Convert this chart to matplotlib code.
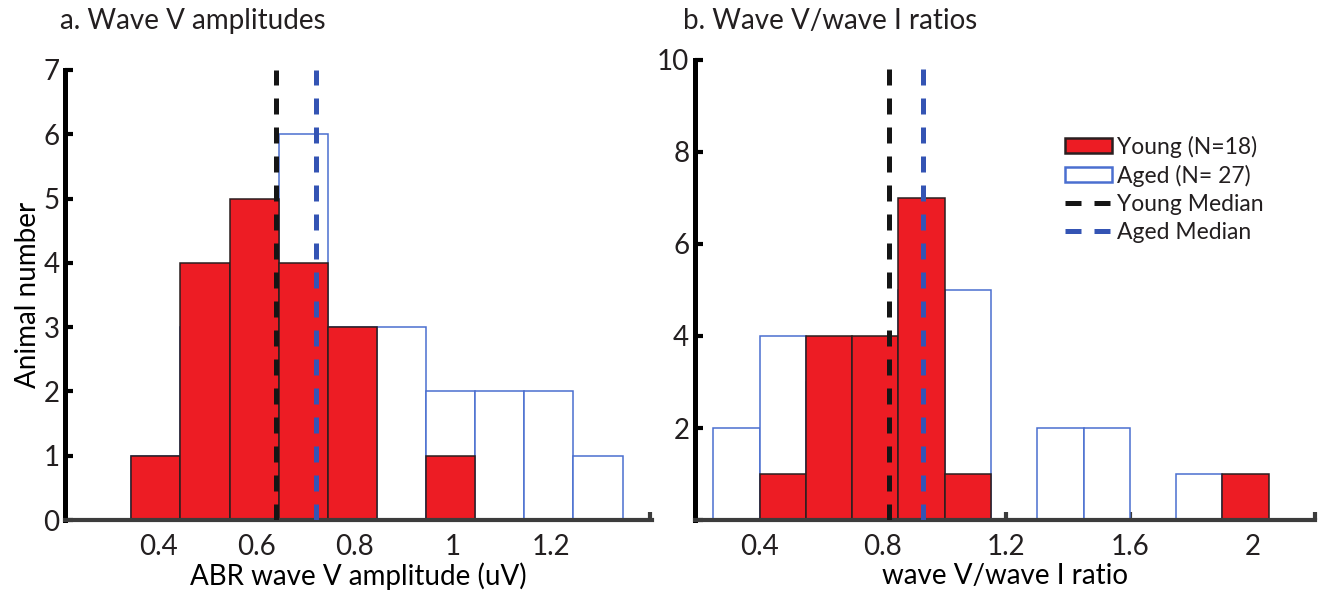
import numpy as np
import matplotlib
matplotlib.use('Agg')
import matplotlib.pyplot as plt
from matplotlib.patches import Patch
from matplotlib.lines import Line2D

# data: panel a, ABR wave V amplitude histogram (bin centres, width 0.1)
amp_bins = [0.395, 0.495, 0.595, 0.695, 0.795, 0.895, 0.995, 1.095, 1.195, 1.295]
amp_young = [1, 4, 5, 4, 3, 0, 1, 0, 0, 0]
amp_aged = [1, 3, 4, 6, 3, 3, 2, 2, 2, 1]
amp_median_young = 0.64
amp_median_aged = 0.72

# data: panel b, wave V / wave I ratio histogram (bin centres, width 0.15)
ratio_bins = [0.325, 0.475, 0.625, 0.775, 0.925, 1.075, 1.225, 1.375, 1.525, 1.675, 1.825, 1.975]
ratio_young = [0, 1, 4, 4, 7, 1, 0, 0, 0, 0, 0, 1]
ratio_aged = [2, 4, 3, 3, 5, 5, 0, 2, 2, 0, 1, 0]
ratio_median_young = 0.82
ratio_median_aged = 0.93

amp_xticks = [0.4, 0.6, 0.8, 1.0, 1.2, 1.4]
amp_xlabels = ['0.4', '0.6', '0.8', '1', '1.2', '']
ratio_xticks = [0.4, 0.6, 0.8, 1.0, 1.2, 1.4, 1.6, 1.8, 2.0, 2.2]
ratio_xlabels = ['0.4', '', '0.8', '', '1.2', '', '1.6', '', '2', '']
ratio_yticks = [0, 2, 4, 6, 8, 10]
ratio_ylabels = ['', '2', '4', '6', '8', '10']

# style
red = '#ed1c24'
red_edge = '#2a1f20'
blue = '#4a6fd0'
blue_med = '#3454b4'
fontsize = 20
dash = (3.2, 2.6)
plt.rcParams['font.family'] = ['Lato', 'DejaVu Sans']
plt.rcParams['text.color'] = '#231f20'

fig = plt.figure(figsize=(13.26, 5.93), dpi=100)


def style_axes(ax):
    ax.set_axisbelow(True)
    for s in ['top', 'right']:
        ax.spines[s].set_visible(False)
    ax.spines['left'].set_linewidth(3.6)
    ax.spines['left'].set_color('black')
    ax.spines['bottom'].set_linewidth(3.0)
    ax.spines['bottom'].set_color('#3c3c3c')
    ax.tick_params(axis='y', direction='in', length=6, width=3, color='black',
                   labelsize=fontsize, pad=4, labelcolor='#231f20')
    ax.tick_params(axis='x', direction='in', length=6, width=3, color='#3c3c3c',
                   labelsize=fontsize, pad=10, labelcolor='#231f20')


def draw_hist(ax, bins, young, aged, width, med_y, med_a):
    ax.bar(bins, aged, width=width, color='white', edgecolor=blue, linewidth=1.1, zorder=1)
    ax.bar(bins, young, width=width, color=red, edgecolor=red_edge, linewidth=1.1, zorder=2)
    ax.axvline(med_y, color='#151515', lw=3.6, dashes=dash, zorder=3)
    ax.axvline(med_a, color=blue_med, lw=3.6, dashes=dash, zorder=3)


# a. wave V amplitudes
ax1 = fig.add_axes([0.049, 0.123, 0.4427, 0.759])
draw_hist(ax1, amp_bins, amp_young, amp_aged, 0.1, amp_median_young, amp_median_aged)
ax1.set_xlim(0.21, 1.405)
ax1.set_ylim(0, 7)
ax1.set_xticks(amp_xticks)
ax1.set_xticklabels(amp_xlabels)
ax1.set_yticks(range(8))
style_axes(ax1)
ax1.set_xlabel('ABR wave V amplitude (uV)', fontsize=fontsize, labelpad=2)
ax1.set_ylabel('Animal number', fontsize=fontsize, labelpad=2)

# b. wave V / wave I ratios
ax2 = fig.add_axes([0.524, 0.123, 0.4676, 0.776])
draw_hist(ax2, ratio_bins, ratio_young, ratio_aged, 0.15, ratio_median_young, ratio_median_aged)
ax2.set_xlim(0.19, 2.2)
ax2.set_ylim(0, 10)
ax2.set_xticks(ratio_xticks)
ax2.set_xticklabels(ratio_xlabels)
ax2.set_yticks(ratio_yticks)
ax2.set_yticklabels(ratio_ylabels)
style_axes(ax2)
ax2.set_xlabel('wave V/wave I ratio', fontsize=fontsize, labelpad=2)

handles = [Patch(facecolor=red, edgecolor=red_edge, linewidth=1.8),
           Patch(facecolor='white', edgecolor=blue, linewidth=1.8),
           Line2D([], [], color='#151515', lw=3.6, dashes=dash),
           Line2D([], [], color=blue_med, lw=3.6, dashes=dash)]
labels = ['Young (N=18)', 'Aged (N= 27)', 'Young Median', 'Aged Median']
ax2.legend(handles, labels, loc='upper left', bbox_to_anchor=(0.563, 0.88),
           frameon=False, fontsize=16.5, handlelength=2.05, handleheight=0.62,
           handletextpad=0.26, labelspacing=0.3)

fig.text(0.045, 0.965, 'a. Wave V amplitudes', fontsize=fontsize, va='center', ha='left')
fig.text(0.515, 0.965, 'b. Wave V/wave I ratios', fontsize=fontsize, va='center', ha='left')

plt.savefig('out.png', dpi=100)
